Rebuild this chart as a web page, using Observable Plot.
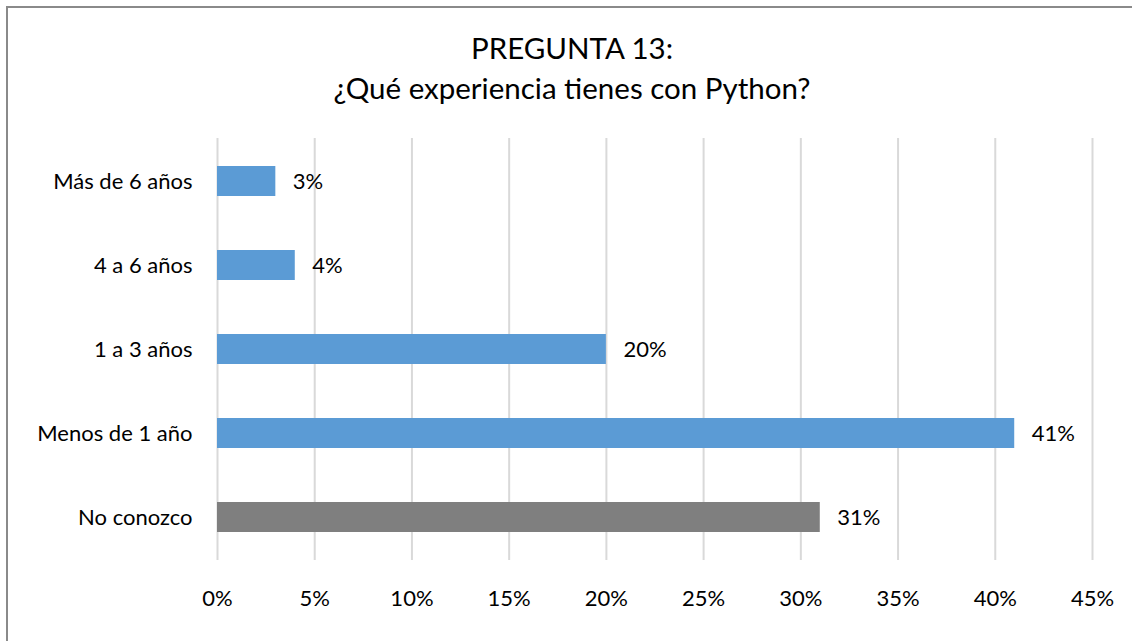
<!DOCTYPE html>
<html>
<head>
<meta charset="utf-8">
<script src="https://cdn.jsdelivr.net/npm/d3@7"></script>
<script src="https://cdn.jsdelivr.net/npm/@observablehq/plot@0.6"></script>
<style>
  html, body { margin: 0; padding: 0; background: #fff; }
  #wrap { position: relative; width: 1132px; height: 641px; overflow: hidden; font-family: Lato, "Open Sans", sans-serif; }
  #frame { position: absolute; left: 6px; top: 6px; width: 1200px; height: 800px; border: 2px solid #8a8a8a; box-sizing: border-box; pointer-events: none; }
  #title { position: relative; width: 1144px; height: 120px; box-sizing: border-box; padding-top: 28px; text-align: center; font-size: 29.5px; line-height: 40px; color: #000; }
  #chart svg { display: block; }
</style>
</head>
<body>
<div id="wrap">
  <div id="frame"></div>
  <div id="title">PREGUNTA 13:<br>¿Qué experiencia tienes con Python?</div>
  <div id="chart"></div>
</div>
<script>
const categories = ["Más de 6 años", "4 a 6 años", "1 a 3 años", "Menos de 1 año", "No conozco"];
const values = [3, 4, 20, 41, 31];
const tickValues = [0, 5, 10, 15, 20, 25, 30, 35, 40, 45];

const data = categories.map((c, i) => ({category: c, value: values[i]}));
const barColor = d => d.category === "No conozco" ? "#7f7f7f" : "#5b9bd5";

const chart = Plot.plot({
  width: 1132,
  height: 521,
  marginTop: 18,
  marginBottom: 81,
  marginLeft: 217,
  marginRight: 40,
  style: {fontFamily: "Lato, 'Open Sans', sans-serif", fontSize: "22px", color: "#000", background: "transparent"},
  x: {domain: [0, 45], ticks: tickValues, label: null},
  y: {domain: categories, paddingInner: 0.645, paddingOuter: 0.3225, label: null},
  marks: [
    Plot.gridX(tickValues, {stroke: "#d9d9d9", strokeOpacity: 1, strokeWidth: 2}),
    Plot.barX(data, {x: "value", y: "category", fill: barColor}),
    Plot.text(data, {x: "value", y: "category", text: d => d.value + "%", textAnchor: "start", dx: 17, fontSize: 22, fill: "#000"}),
    Plot.axisX(tickValues, {tickSize: 0, tickPadding: 30, tickFormat: d => d + "%", fontSize: 22, label: null}),
    Plot.axisY({tickSize: 0, tickPadding: 25, fontSize: 22, label: null})
  ]
});
document.getElementById("chart").appendChild(chart);
</script>
</body>
</html>
